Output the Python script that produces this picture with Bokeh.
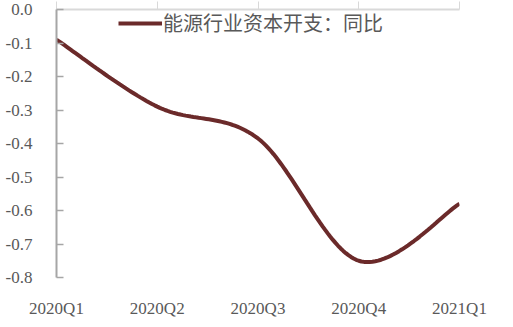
import numpy as np
from bokeh.plotting import figure
from bokeh.models import FixedTicker, LinearAxis, Range1d, ColumnDataSource, Legend, LegendItem
from bokeh.embed import file_html
from bokeh.resources import INLINE

categories = ["2020Q1", "2020Q2", "2020Q3", "2020Q4", "2021Q1"]
yoy_values = [-0.09, -0.29, -0.385, -0.75, -0.58]
y_ticks = [0.0, -0.1, -0.2, -0.3, -0.4, -0.5, -0.6, -0.7, -0.8]
y_tick_labels = ["0.0", "-0.1", "-0.2", "-0.3", "-0.4", "-0.5", "-0.6", "-0.7", "-0.8"]
series_name = "能源行业资本开支：同比"

xs_pts = np.arange(len(categories), dtype=float)
ys_pts = np.array(yoy_values, dtype=float)
n = len(xs_pts)
sx, sy = [], []
for i in range(n - 1):
    p0 = np.array([xs_pts[max(i - 1, 0)], ys_pts[max(i - 1, 0)]])
    p1 = np.array([xs_pts[i], ys_pts[i]])
    p2 = np.array([xs_pts[i + 1], ys_pts[i + 1]])
    p3 = np.array([xs_pts[min(i + 2, n - 1)], ys_pts[min(i + 2, n - 1)]])
    b1 = p1 + (p2 - p0) / 6.0
    b2 = p2 - (p3 - p1) / 6.0
    t = np.linspace(0, 1, 40)[:, None]
    pts = ((1 - t) ** 3) * p1 + 3 * ((1 - t) ** 2) * t * b1 + 3 * (1 - t) * t ** 2 * b2 + t ** 3 * p2
    sx.extend(pts[:, 0].tolist())
    sy.extend(pts[:, 1].tolist())

src = ColumnDataSource(dict(x=sx, y=sy))

p = figure(width=513, height=327, output_backend="svg", toolbar_location=None,
           x_range=Range1d(0, len(categories) - 1), y_range=Range1d(-0.8, 0.0),
           min_border_left=56, min_border_right=54, min_border_top=9, min_border_bottom=50,
           x_axis_location="below")
p.grid.visible = False
p.outline_line_color = None
p.background_fill_color = "white"
p.border_fill_color = "white"

line = p.line("x", "y", source=src, line_color="#6B2A2A", line_width=4)

lab_font = "Liberation Serif"
xa = p.xaxis[0]
xa.ticker = FixedTicker(ticks=list(range(len(categories))))
xa.major_label_overrides = {i: c for i, c in enumerate(categories)}
xa.axis_line_color = None
xa.major_tick_line_color = None
xa.minor_tick_line_color = None
xa.major_label_standoff = 15
xa.major_label_text_font = lab_font
xa.major_label_text_font_size = "17px"
xa.major_label_text_color = "#595959"

ta = LinearAxis(ticker=FixedTicker(ticks=list(range(len(categories)))),
                major_label_overrides={i: "" for i in range(len(categories))},
                major_label_standoff=0,
                axis_line_color="#d9d9d9", axis_line_width=2,
                major_tick_line_color="#d9d9d9", major_tick_line_width=1,
                major_tick_in=0, major_tick_out=8, minor_tick_line_color=None)
p.add_layout(ta, "above")

ya = p.yaxis[0]
ya.ticker = FixedTicker(ticks=y_ticks)
ya.major_label_overrides = {t: l for t, l in zip(y_ticks, y_tick_labels)}
ya.axis_line_color = "#a6a6a6"
ya.axis_line_width = 2
ya.major_tick_line_color = "#a6a6a6"
ya.major_tick_line_width = 1.5
ya.major_tick_in = 7
ya.major_tick_out = 0
ya.minor_tick_line_color = None
ya.major_label_standoff = 24
ya.major_label_text_font = lab_font
ya.major_label_text_font_size = "17px"
ya.major_label_text_color = "#595959"

legend = Legend(items=[LegendItem(label=series_name, renderers=[line])],
                location=(62, 240), border_line_color=None, background_fill_alpha=0,
                padding=0, margin=0, glyph_width=44, label_standoff=1,
                label_text_font="Noto Sans CJK SC", label_text_font_size="20px",
                label_text_color="#595959")
p.add_layout(legend, "center")

open("out.html", "w").write(file_html(p, INLINE))
